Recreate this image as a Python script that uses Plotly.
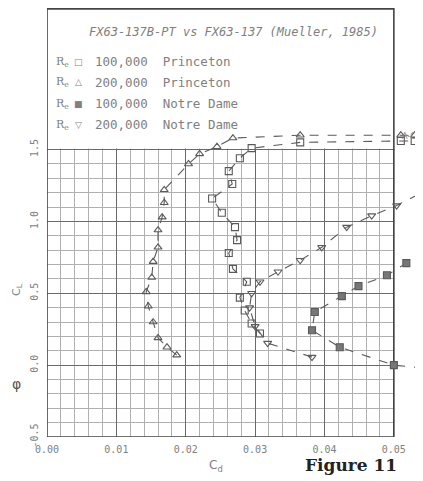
import plotly.graph_objects as go

# ---- data ----
pr100_cd = [0.0307, 0.0295, 0.0285, 0.0278, 0.0288, 0.0268, 0.0262, 0.0274, 0.0271, 0.0252,
            0.0238, 0.0267, 0.0262, 0.0278, 0.0295, 0.0365, 0.0510, 0.0530]
pr100_cl = [0.22, 0.29, 0.38, 0.47, 0.58, 0.67, 0.78, 0.87, 0.96, 1.06,
            1.16, 1.26, 1.35, 1.44, 1.51, 1.55, 1.56, 1.56]

pr200_cd = [0.0187, 0.0173, 0.0160, 0.0153, 0.0146, 0.0143, 0.0151, 0.0153, 0.0160, 0.0160,
            0.0166, 0.0169, 0.0169, 0.0204, 0.0220, 0.0245, 0.0268, 0.0365, 0.0510, 0.0530]
pr200_cl = [0.07, 0.125, 0.19, 0.30, 0.41, 0.51, 0.61, 0.72, 0.82, 0.94,
            1.03, 1.13, 1.22, 1.40, 1.47, 1.52, 1.58, 1.60, 1.60, 1.60]

nd100_cd = [0.0542, 0.0500, 0.0422, 0.0382, 0.0386, 0.0425, 0.0449, 0.0490, 0.0518, 0.0542]
nd100_cl = [-0.02, 0.00, 0.125, 0.243, 0.37, 0.48, 0.55, 0.625, 0.71, 0.79]

nd200_cd = [0.0382, 0.0318, 0.0300, 0.0292, 0.0295, 0.0307, 0.0333, 0.0365, 0.0396, 0.0432,
            0.0468, 0.0504, 0.0540]
nd200_cl = [0.056, 0.153, 0.27, 0.40, 0.50, 0.58, 0.65, 0.73, 0.82, 0.96,
            1.04, 1.11, 1.20]

x_ticks = [0.00, 0.01, 0.02, 0.03, 0.04, 0.05]
x_tick_text = ["0.00", "0.01", "0.02", "0.03", "0.04", "0.05"]
y_ticks = [-0.5, 0.0, 0.5, 1.0, 1.5]
y_tick_text = ["-0.5", "0.0", "0.5", "1.0", "1.5"]

title_text = "<i>FX63-137B-PT vs FX63-137 (Mueller, 1985)</i>"
legend_syms = ["□", "△", "■", "▽"]
legend_labels = ["100,000  Princeton", "200,000  Princeton", "100,000  Notre Dame", "200,000  Notre Dame"]

# ---- figure ----
# the page body has an 8px margin, so the figure is drawn at (8, 8)
OFF = 8
W, H = 423 - OFF, 481 - OFF
ML, MR, MT, MB = 47 - OFF, 0, 0, 44
X_MAX = 0.0542
Y_MIN, Y_MAX = -0.5, 2.485

PW = W - ML - MR
PH = H - MT - MB

def px(x):
    # reference-window pixel -> paper fraction
    return (x - OFF - ML) / PW

def py(y):
    return (H - MB - (y - OFF)) / PH

def note(x, y, text, size, color="#808080", family="DejaVu Sans", xanchor="center", **kw):
    return dict(x=px(x), y=py(y), xref="paper", yref="paper", text=text, showarrow=False,
                xanchor=xanchor, yanchor="middle",
                font=dict(family=family, size=size, color=color), **kw)

LC = "#5a5a5a"
fig = go.Figure()
series = [
    (pr100_cd, pr100_cl, "square-open"),
    (pr200_cd, pr200_cl, "triangle-up-open"),
    (nd100_cd, nd100_cl, "square"),
    (nd200_cd, nd200_cl, "triangle-down-open"),
]
for cd, cl, sym in series:
    fig.add_trace(go.Scatter(
        x=cd, y=cl, mode="lines+markers",
        line=dict(color=LC, width=1.1, dash="dash"),
        marker=dict(symbol=sym, size=7, color="#777" if sym == "square" else LC,
                    line=dict(color=LC, width=1.1)),
        showlegend=False, cliponaxis=False))

shapes = [
    # white cover over the legend area (above CL = 1.5)
    dict(type="rect", xref="x", yref="y", x0=-0.001, x1=X_MAX + 0.001, y0=1.508, y1=Y_MAX + 0.1,
         fillcolor="white", line=dict(width=0), layer="between"),
    # white cover right of the 0.05 border
    dict(type="rect", xref="x", yref="y", x0=0.05007, x1=X_MAX + 0.001, y0=Y_MIN - 0.1, y1=Y_MAX + 0.1,
         fillcolor="white", line=dict(width=0), layer="between"),
    # frame
    dict(type="rect", xref="x", yref="y", x0=0.0, x1=0.05, y0=Y_MIN, y1=Y_MAX - 0.006,
         line=dict(color="#444", width=1.6), layer="between"),
]

annotations = [note(233, 32, title_text, 12, family="DejaVu Sans Mono")]
rows_y = [62, 82, 104, 125]
for ry, s, lab in zip(rows_y, legend_syms, legend_labels):
    annotations.append(note(54, ry, "R<sub>e</sub>", 11, family="DejaVu Serif", xanchor="left"))
    annotations.append(note(78, ry, s, 9))
    annotations.append(note(93, ry, lab, 12.5, family="DejaVu Sans Mono", xanchor="left"))

annotations += [
    note(400, 136, "A-Ct", 8, color="#888", xanchor="left"),
    note(17, 290, "C<sub>L</sub>", 11, textangle=-90),
    note(16, 384, "φ", 14, color="#555"),
    note(216, 466, "C<sub>d</sub>", 12),
    note(351, 465, "<b>Figure 11</b>", 17, color="#222", family="DejaVu Serif"),
]

fig.update_layout(
    width=W, height=H, autosize=False,
    margin=dict(l=ML, r=MR, t=MT, b=MB, pad=0),
    paper_bgcolor="white", plot_bgcolor="white",
    shapes=shapes, annotations=annotations,
    xaxis=dict(range=[0, X_MAX], tickmode="array", tickvals=x_ticks, ticktext=x_tick_text,
               showgrid=True, gridcolor="#6a6a6a", gridwidth=1.3, zeroline=False,
               minor=dict(dtick=0.002, tick0=0, showgrid=True, gridcolor="#b0b0b0", gridwidth=1),
               tickfont=dict(family="DejaVu Sans Mono", size=10, color="#808080"),
               ticks="", showline=False, ticklabelstandoff=5, fixedrange=True),
    yaxis=dict(range=[Y_MIN, Y_MAX], tickmode="array", tickvals=y_ticks, ticktext=y_tick_text,
               tickangle=-90, showgrid=True, gridcolor="#6a6a6a", gridwidth=1.3, zeroline=False,
               minor=dict(dtick=0.1, tick0=0, showgrid=True, gridcolor="#b0b0b0", gridwidth=1),
               tickfont=dict(family="DejaVu Sans Mono", size=10, color="#808080"),
               ticks="", showline=False, ticklabelstandoff=6, fixedrange=True),
)

fig.write_html("out.html")
